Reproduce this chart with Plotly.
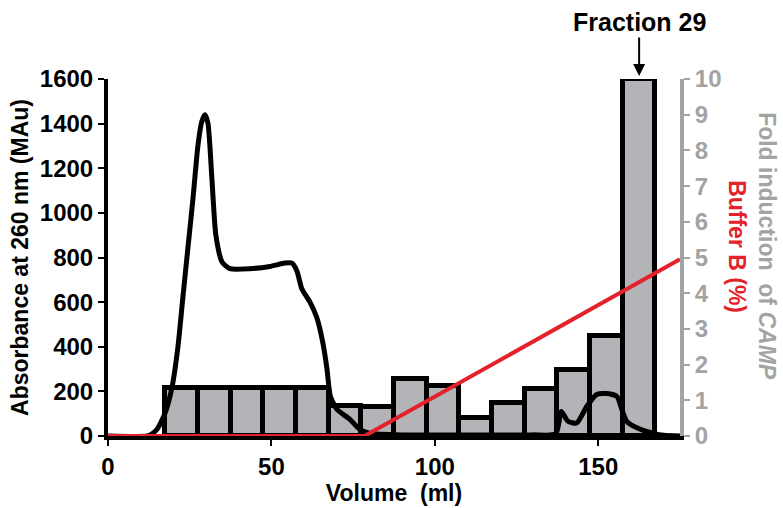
import plotly.graph_objects as go

# Fractions (bars) - fold induction of cAMP (right axis)
frac_centers = [22.5, 32.5, 42.5, 52.5, 62.5, 72.5, 82.5, 92.5, 102.5, 112.5,
                122.5, 132.5, 142.5, 152.5, 162.5]
fold_values = [1.35, 1.35, 1.35, 1.35, 1.35, 0.85, 0.8, 1.6, 1.4, 0.5,
               0.92, 1.33, 1.85, 2.8, 10.0]

# Chromatogram: absorbance at 260 nm (left axis)
volume = [0, 12, 13.5, 15, 17.4, 19.6, 21.4, 22.9, 24.5, 26, 27.5, 28.7, 29.7, 30.6,
          31.8, 33, 34.9, 37.3, 43.4, 49.5, 54.1, 56.3, 57.8, 59.3, 61.8, 63.9,
          65.7, 67, 68, 70, 74, 77, 80, 90, 110, 130, 137, 138.7, 140.7, 143.4,
          146.5, 149.5, 152.6, 155.7, 157.2, 158.7, 162.7, 166.7, 170, 175]
absorbance = [0, 0, 10, 30, 100, 220, 400, 620, 850, 1064, 1300, 1410, 1440, 1400,
              1150, 900, 780, 750, 750, 760, 775, 775, 740, 660, 600, 530,
              420, 300, 180, 120, 75, 30, 13, 5, 5, 5, 10, 110, 66, 58,
              133, 186, 190, 177, 120, 66, 31, 13, 3, 0]

# Buffer B gradient (%)
buffer_x = [0, 78.5, 175]
buffer_y = [0, 0, 4.95]

x_ticks = [0, 50, 100, 150]
left_ticks = [0, 200, 400, 600, 800, 1000, 1200, 1400, 1600]
right_ticks = list(range(0, 11))

FONT = "Liberation Sans, Arial, sans-serif"
GRAY = "#a3a3a3"
RED = "#e3222b"

fig = go.Figure()

fig.add_trace(go.Bar(
    x=frac_centers, y=fold_values, width=10,
    marker=dict(color="#b3b4b8", line=dict(color="black", width=5)),
    yaxis="y", xaxis="x", showlegend=False,
))

fig.add_trace(go.Scatter(
    x=volume, y=absorbance, mode="lines", yaxis="y2",
    line=dict(color="black", width=5, shape="spline", smoothing=0.6),
    cliponaxis=False, showlegend=False,
))

fig.add_trace(go.Scatter(
    x=buffer_x, y=buffer_y, mode="lines", yaxis="y3",
    line=dict(color=RED, width=4),
    cliponaxis=False, showlegend=False,
))

tickfont_black = dict(family=FONT, size=24, color="black", weight="bold")
tickfont_gray = dict(family=FONT, size=24, color=GRAY, weight="bold")

fig.update_layout(
    width=783, height=508,
    margin=dict(l=108, r=103, t=79, b=68),
    plot_bgcolor="white", paper_bgcolor="white",
    bargap=0,
    xaxis=dict(
        range=[0, 175], tickvals=x_ticks, showgrid=False, zeroline=False,
        showline=True, linecolor="black", linewidth=4,
        ticks="outside", ticklen=6, tickwidth=2, tickcolor="black",
        tickfont=tickfont_black,
        title=dict(text="Volume  (ml)", font=dict(family=FONT, size=23, color="black", weight="bold"),
                   standoff=0),
    ),
    yaxis=dict(
        side="right", range=[0, 10], tickvals=right_ticks, showgrid=False, zeroline=False,
        showline=True, linecolor=GRAY, linewidth=4,
        ticks="outside", ticklen=6, tickwidth=2, tickcolor=GRAY,
        tickfont=tickfont_gray,
    ),
    yaxis2=dict(
        overlaying="y", side="left", range=[0, 1600], tickvals=left_ticks,
        showgrid=False, zeroline=False,
        showline=True, linecolor="black", linewidth=4,
        ticks="outside", ticklen=6, tickwidth=2, tickcolor="black",
        tickfont=tickfont_black,
        title=dict(text="Absorbance at 260 nm (MAu)",
                   font=dict(family=FONT, size=23, color="black", weight="bold"), standoff=6),
    ),
    yaxis3=dict(
        overlaying="y", range=[0, 10], visible=False,
    ),
    annotations=[
        dict(x=162.5, y=10, xref="x", yref="y", yshift=3,
             text="Fraction 29", showarrow=True, ax=0, ay=-54,
             arrowhead=2, arrowsize=1.2, arrowwidth=2, arrowcolor="black",
             font=dict(family=FONT, size=25, color="black", weight="bold")),
        dict(x=737, y=248, xref="paper", yref="paper", text="Buffer B (%)",
             textangle=90, showarrow=False, xanchor="center", yanchor="middle",
             font=dict(family=FONT, size=23, color=RED, weight="bold")),
        dict(x=767, y=248, xref="paper", yref="paper", text="Fold induction  of <i>CAMP</i>",
             textangle=90, showarrow=False, xanchor="center", yanchor="middle",
             font=dict(family=FONT, size=23, color=GRAY, weight="bold")),
    ],
)

# convert pixel positions of side titles into paper coordinates
pw = 783 - 108 - 103
ph = 508 - 79 - 68
for ann in fig.layout.annotations[1:]:
    px, py = ann.x, ann.y
    ann.x = (px - 108) / pw
    ann.y = (508 - 68 - py) / ph

fig.write_html("out.html")
